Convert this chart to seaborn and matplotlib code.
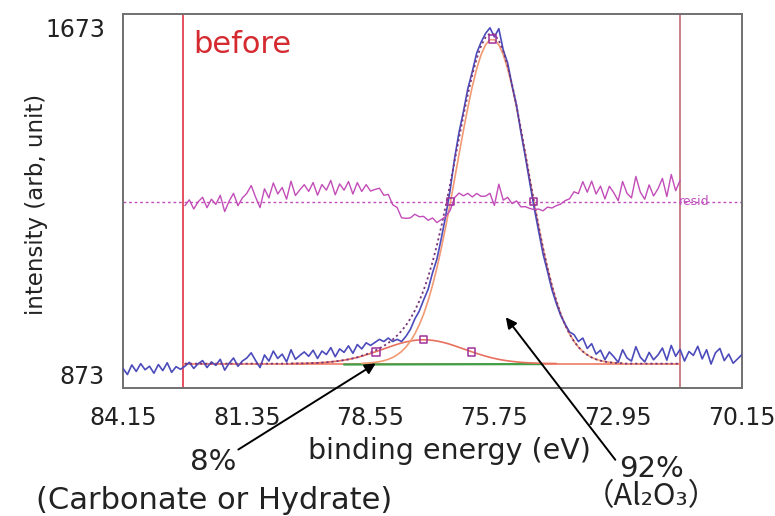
import numpy as np
import pandas as pd
import matplotlib
matplotlib.use("Agg")
import matplotlib.pyplot as plt
import seaborn as sns

# ---------------- data ----------------
# measured spectrum, 0.1 eV steps from 84.15 eV down to 70.15 eV
energy = np.round(84.15 - 0.1 * np.arange(141), 2)
intensity = (
    [888, 874, 896, 881, 899, 885, 893, 877, 897, 883, 901, 879, 892, 886]
    + [893, 902, 888, 899, 906, 890, 903, 895, 909, 884, 900, 912, 893, 905]
    + [912, 924, 906, 890, 919, 905, 928, 911, 921, 903, 931, 909, 918, 926]
    + [916, 930, 911, 928, 920, 936, 915, 933, 925, 940, 923, 943, 933, 947, 941]
    + [948, 955, 950, 958, 950, 955, 950, 962]
    + [978, 1002, 1020, 1046, 1070, 1108, 1140, 1188, 1240, 1300]
    + [1372, 1432, 1480, 1533, 1572, 1615, 1640, 1660, 1673, 1652, 1671, 1622, 1592,
       1540, 1495, 1432, 1376, 1316, 1258, 1205, 1152, 1112, 1070, 1038, 1010, 990]
    + [972, 966, 950, 958, 934, 945, 921, 930, 908, 926, 915, 902, 931, 912, 905,
       938, 914, 903, 925, 908, 919, 935, 907, 941, 916, 932, 905, 927, 918, 939,
       910, 931, 898, 924, 934, 906, 921, 900, 910, 920]
)

background = 899           # flat fitted background
fit_range = [82.8, 71.55]  # fitting window (red vertical lines)

# Al2O3 component (above background), 78.75 -> 72.85 eV
main_energy = np.round(78.75 - 0.1 * np.arange(60), 2)
main_comp = [0.8, 1.3, 2.0, 3.1, 4.6, 6.9, 10.0, 14.3, 20.2, 28.0, 38.4, 51.6, 68.4,
             89.2, 114.4, 144.7, 180.1, 220.7, 266.2, 316.1, 369.6, 425.4, 482.0,
             537.7, 590.5, 638.6, 679.7, 712.3, 735.0, 746.5, 746.5, 735.0, 712.3,
             679.7, 638.6, 590.5, 537.7, 482.0, 425.4, 369.6, 316.1, 266.2, 220.7,
             180.1, 144.7, 114.4, 89.2, 68.4, 51.6, 38.4, 28.0, 20.2, 14.3, 10.0,
             6.9, 4.6, 3.1, 2.0, 1.3, 0.8]

# carbonate / hydrate component (above background), 80.35 -> 74.35 eV
minor_energy = np.round(80.35 - 0.1 * np.arange(61), 2)
minor_comp = [0.3, 0.4, 0.5, 0.7, 1.0, 1.4, 1.8, 2.4, 3.1, 4.1, 5.2, 6.5, 8.1, 9.9,
              12.1, 14.5, 17.3, 20.3, 23.5, 26.9, 30.5, 34.1, 37.6, 41.2, 44.5, 47.5,
              50.0, 52.2, 53.7, 54.7, 55.0, 54.7, 53.7, 52.2, 50.0, 47.5, 44.5, 41.2,
              37.6, 34.1, 30.5, 26.9, 23.5, 20.3, 17.3, 14.5, 12.1, 9.9, 8.1, 6.5,
              5.2, 4.1, 3.1, 2.4, 1.8, 1.4, 1.0, 0.7, 0.5, 0.4, 0.3]

# component markers (peak / half maximum)
marker_energy = [75.80, 76.74, 74.86, 77.35, 78.43, 76.27]
marker_value = [1647, 1273, 1273, 954, 926, 926]

green_energy = [79.15, 74.65]
green_value = [897, 898]

xtick_values = [84.15, 81.35, 78.55, 75.75, 72.95, 70.15]
ytick_values = [873, 1673]

RESID_ZERO = 1272
RESID_SCALE = 1.5

# ---------------- build tables ----------------
def key(e):
    return np.rint(np.asarray(e) * 100).astype(int)

spec = pd.DataFrame({"E": energy, "I": intensity})
spec["k"] = key(spec["E"])
main_s = pd.Series(main_comp, index=key(main_energy))
minor_s = pd.Series(minor_comp, index=key(minor_energy))
spec["main"] = main_s.reindex(spec["k"]).fillna(0).values
spec["minor"] = minor_s.reindex(spec["k"]).fillna(0).values
spec["envelope"] = background + spec["main"] + spec["minor"]
fit = spec[(spec["E"] <= fit_range[0]) & (spec["E"] >= fit_range[1])].copy()
fit["resid"] = RESID_ZERO + RESID_SCALE * (fit["I"] - fit["envelope"])

main_df = pd.DataFrame({"E": main_energy, "v": background + np.array(main_comp)})
minor_df = pd.DataFrame({"E": minor_energy, "v": background + np.array(minor_comp)})
bg_df = pd.DataFrame({"E": fit_range, "v": [background, background]})
green_df = pd.DataFrame({"E": green_energy, "v": green_value})
mk_df = pd.DataFrame({"E": marker_energy, "v": marker_value})

# ---------------- plot ----------------
sns.set_style("white")
plt.rcParams["font.family"] = ["DejaVu Sans"]

fig = plt.figure(figsize=(7.75, 5.16), dpi=100)
ax = fig.add_axes([0.1587, 0.249, 0.7987, 0.724])

for e, c in zip(fit_range, ["#e4505e", "#c98088"]):
    ax.axvline(e, color=c, lw=1.4, zorder=1)

ax.axhline(RESID_ZERO, color="#c050b8", lw=1.0, ls=(0, (2, 2)), zorder=2)

kw = dict(ax=ax, estimator=None, sort=False, legend=False)
sns.lineplot(data=bg_df, x="E", y="v", color="#ec7a62", lw=1.2, zorder=2, **kw)
sns.lineplot(data=green_df, x="E", y="v", color="#3fa046", lw=1.6, zorder=2, **kw)
sns.lineplot(data=minor_df, x="E", y="v", color="#e8705e", lw=1.2, zorder=3, **kw)
sns.lineplot(data=main_df, x="E", y="v", color="#f29a74", lw=1.2, zorder=3, **kw)
sns.lineplot(data=spec, x="E", y="I", color="#4b4bbb", lw=1.2, zorder=4, **kw)
sns.lineplot(data=fit, x="E", y="envelope", color="#7a3478", lw=1.3,
             linestyle=(0, (1.2, 1.6)), zorder=5, **kw)
sns.lineplot(data=fit, x="E", y="resid", color="#c24cb8", lw=1.0, zorder=5, **kw)
sns.scatterplot(data=mk_df, x="E", y="v", marker="s", s=28, facecolor="none",
                edgecolor="#a0309a", linewidth=1.1, zorder=6, ax=ax, legend=False)

ax.text(fit_range[1] + 0.02, RESID_ZERO, "resid", color="#c050c0", fontsize=9,
        va="center", ha="left", zorder=6)
ax.text(82.57, 1615, "before", color="#d42a30", fontsize=22, va="baseline", ha="left")

ax.set_xlim(84.15, 70.15)
ax.set_ylim(844, 1705)
ax.set_xticks(xtick_values)
ax.set_xticklabels([f"{v:.2f}" for v in xtick_values])
ax.set_yticks(ytick_values)
ax.set_yticklabels([str(v) for v in ytick_values])
ax.tick_params(axis="both", labelsize=17, labelcolor="#222222", length=6,
               width=1.2, direction="out", color="#777777")
ax.tick_params(axis="x", pad=7)
ax.tick_params(axis="y", pad=7)
for s in ax.spines.values():
    s.set_color("#707070")
    s.set_linewidth(1.4)
ax.set_xlabel("binding energy (eV)", fontsize=20.5, color="#222222")
ax.xaxis.set_label_coords(0.528, -0.133)
ax.set_ylabel("intensity (arb, unit)", fontsize=16.5, color="#222222")
ax.yaxis.set_label_coords(-0.121, 0.49)

# annotations
arrow = dict(arrowstyle="-|>", color="black", lw=1.4, mutation_scale=16)
ax.annotate("", xy=(78.38, 903), xycoords="data",
            xytext=(236, 516 - 451), textcoords="figure pixels", arrowprops=arrow)
ax.annotate("", xy=(75.53, 1011), xycoords="data",
            xytext=(617, 516 - 462), textcoords="figure pixels", arrowprops=arrow)

fig.text(0.2755, 0.0891, "8%", fontsize=21, ha="center", va="baseline", color="#222222")
fig.text(0.2765, 0.031, "(Carbonate or Hydrate)", fontsize=22, ha="center",
         va="center", color="#222222")
fig.text(0.8406, 0.0756, "92%", fontsize=21, ha="center", va="baseline", color="#222222")
fig.text(0.841, 0.038, "（Al₂O₃）", fontsize=22, ha="center", va="center",
         color="#222222", family=["Noto Sans CJK SC", "DejaVu Sans"])

fig.savefig("out.png", dpi=100)
